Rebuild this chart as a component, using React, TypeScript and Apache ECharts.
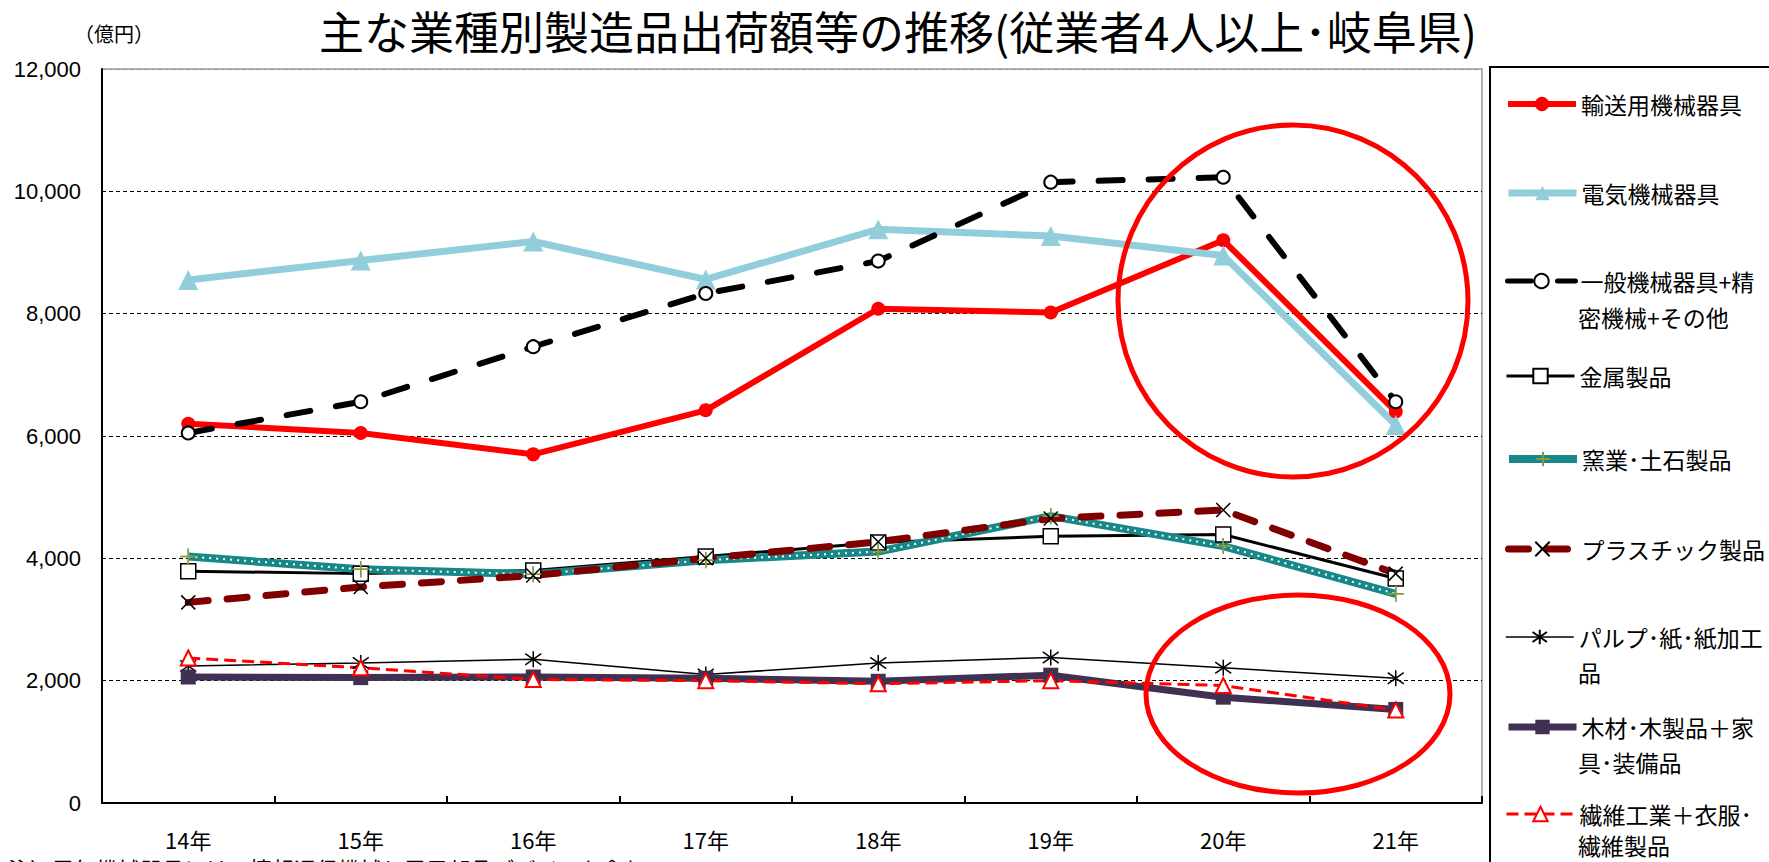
import React, { useEffect, useRef } from 'react';
import * as echarts from 'echarts';

const years = ['14年', '15年', '16年', '17年', '18年', '19年', '20年', '21年'];
const yTicks = [0, 2000, 4000, 6000, 8000, 10000, 12000];

const transport = [6200, 6050, 5700, 6420, 8080, 8020, 9200, 6400];
const electric = [8550, 8870, 9180, 8560, 9380, 9270, 8950, 6180];
const general = [6050, 6560, 7460, 8330, 8860, 10150, 10230, 6560];
const metal = [3790, 3750, 3800, 4030, 4260, 4360, 4390, 3670];
const ceramic = [4030, 3820, 3740, 3970, 4110, 4690, 4200, 3420];
const plastic = [3280, 3530, 3720, 4000, 4270, 4650, 4790, 3750];
const pulp = [2240, 2290, 2350, 2100, 2290, 2380, 2210, 2040];
const wood = [2060, 2050, 2060, 2040, 1990, 2090, 1730, 1530];
const textile = [2370, 2210, 2020, 2000, 1950, 2000, 1920, 1520];

const names = [
  '輸送用機械器具',
  '電気機械器具',
  '一般機械器具+精密機械+その他',
  '金属製品',
  '窯業･土石製品',
  'プラスチック製品',
  'パルプ･紙･紙加工品',
  '木材･木製品＋家具･装備品',
  '繊維工業＋衣服･繊維製品',
];

const titleText = '主な業種別製造品出荷額等の推移(従業者4人以上･岐阜県)';
const unitText = '（億円）';
const noteText = '注）電気機械器具には、情報通信機械と電子部品デバイスを含む';

const legendRows = [
  { name: names[0], first: '輸送用機械器具', y: 101, w: 6 },
  { name: names[1], first: '電気機械器具', y: 190, w: 7 },
  { name: names[2], first: '一般機械器具+精', y: 278, w: 5 },
  { name: names[3], first: '金属製品', y: 373, w: 3 },
  { name: names[4], first: '窯業･土石製品', y: 456, w: 8 },
  { name: names[5], first: 'プラスチック製品', y: 546, w: 7 },
  { name: names[6], first: 'パルプ･紙･紙加工', y: 634, w: 1.5 },
  { name: names[7], first: '木材･木製品＋家', y: 724, w: 7 },
  { name: names[8], first: '繊維工業＋衣服･', y: 811, w: 3 },
];
const legendSecond = [
  { text: '密機械+その他', y: 317 },
  { text: '品', y: 672 },
  { text: '具･装備品', y: 762 },
  { text: '繊維製品', y: 845 },
];

const PLUS = 'path://M10,0L10,20M0,10L20,10';
const CROSS = 'path://M0,0L20,20M20,0L0,20';
const STAR = 'path://M10,0L10,20M2,3L18,17M18,3L2,17';

const JP = 'Noto Sans CJK JP';

function line(name: string, data: number[], symbol: string, symbolSize: number, lineStyle: any, itemStyle: any, extra: any = {}) {
  return {
    type: 'line',
    name,
    data,
    symbol,
    symbolSize,
    showSymbol: true,
    lineStyle,
    itemStyle,
    emphasis: { disabled: true },
    silent: true,
    ...extra,
  };
}

function buildOption() {
  const series = [
    line(names[0], transport, 'circle', 14, { color: '#FF0000', width: 6 }, { color: '#FF0000' }),
    line(names[1], electric, 'triangle', 20, { color: '#92CDDC', width: 7 }, { color: '#92CDDC' }),
    line(names[2], general, 'circle', 13, { color: '#000', width: 6, type: [24, 26], cap: 'round' }, { color: '#fff', borderColor: '#000', borderWidth: 2 }),
    line(names[3], metal, 'rect', 15, { color: '#000', width: 3 }, { color: '#fff', borderColor: '#000', borderWidth: 1.5 }),
    line(names[4], ceramic, PLUS, 16, { color: '#178787', width: 8 }, { color: '#8A9B3C', borderColor: '#8A9B3C', borderWidth: 1.5 }),
    line(names[4] + ' ', ceramic, PLUS, 16, { color: '#ffffff', width: 2, type: [2, 5] }, { color: '#8A9B3C', borderColor: '#8A9B3C', borderWidth: 1.5 }),
    line(names[5], plastic, CROSS, 14, { color: '#800000', width: 7, type: [20, 19], cap: 'round' }, { color: '#000', borderColor: '#000', borderWidth: 1.5 }),
    line(names[6], pulp, STAR, 16, { color: '#000', width: 1.5 }, { color: '#000', borderColor: '#000', borderWidth: 1.5 }),
    line(names[7], wood, 'rect', 15, { color: '#403152', width: 7 }, { color: '#403152' }),
    line(names[8], textile, 'triangle', 15, { color: '#FF0000', width: 3, type: [12, 6] }, { color: '#fff', borderColor: '#FF0000', borderWidth: 2 }),
  ];

  const legend = legendRows.map((r) => ({
    data: [r.name],
    left: 1505,
    top: r.y - 9,
    orient: 'horizontal',
    padding: 0,
    itemWidth: 68,
    itemHeight: 18,
    itemGap: 0,
    selectedMode: false,
    formatter: r.first,
    textStyle: { fontSize: 23, color: '#000', fontFamily: JP, lineHeight: 24 },
    lineStyle: { width: r.w },
  }));

  const graphic: any[] = [
    {
      type: 'text',
      x: 114,
      y: 33,
      style: { text: unitText, fontSize: 20, fontFamily: JP, fill: '#000', textAlign: 'center', textVerticalAlign: 'middle' },
    },
    {
      type: 'text',
      x: 8,
      y: 857,
      style: { text: noteText, fontSize: 22, fontFamily: JP, fill: '#000', textAlign: 'left', textVerticalAlign: 'top' },
    },
    {
      type: 'rect',
      shape: { x: 1490, y: 67, width: 320, height: 830 },
      style: { fill: 'none', stroke: '#000', lineWidth: 2 },
    },
    {
      type: 'ellipse',
      z: 100,
      shape: { cx: 1293, cy: 301, rx: 175, ry: 176 },
      style: { fill: 'none', stroke: '#FF0000', lineWidth: 5 },
    },
    {
      type: 'ellipse',
      z: 100,
      shape: { cx: 1298, cy: 694, rx: 152, ry: 99 },
      style: { fill: 'none', stroke: '#FF0000', lineWidth: 5 },
    },
    ...legendSecond.map((s) => ({
      type: 'text',
      x: 1578,
      y: s.y,
      style: { text: s.text, fontSize: 23, lineHeight: 24, fontFamily: JP, fill: '#000', textAlign: 'left', textVerticalAlign: 'middle' },
    })),
  ];

  return {
    animation: false,
    backgroundColor: '#ffffff',
    title: {
      text: titleText,
      left: 319,
      top: 8,
      padding: 0,
      textStyle: { fontSize: 45, lineHeight: 45, fontWeight: 'normal', fontFamily: JP, color: '#000' },
    },
    grid: {
      left: 102,
      right: 287,
      top: 69,
      bottom: 59,
      show: true,
      borderColor: '#999',
      borderWidth: 1.5,
      backgroundColor: 'transparent',
    },
    xAxis: {
      type: 'category',
      data: years,
      boundaryGap: true,
      axisLine: { lineStyle: { color: '#000', width: 2 } },
      axisTick: { show: true, inside: true, length: 7, interval: 0, lineStyle: { color: '#000', width: 2 } },
      axisLabel: { fontSize: 22, lineHeight: 22, margin: 25, color: '#000', fontFamily: JP, interval: 0 },
      splitLine: { show: false },
    },
    yAxis: {
      type: 'value',
      min: yTicks[0],
      max: yTicks[yTicks.length - 1],
      interval: 2000,
      axisLine: { show: true, lineStyle: { color: '#000', width: 2 } },
      axisTick: { show: false },
      axisLabel: {
        fontSize: 22,
        margin: 21,
        color: '#000',
        fontFamily: 'Liberation Sans',
        formatter: (v: number) => v.toLocaleString('en-US'),
      },
      splitLine: {
        show: true,
        lineStyle: {
          color: yTicks.map((t, i) => (i === yTicks.length - 1 ? '#999' : '#000')),
          type: [4, 3],
          width: 1,
        },
      },
    },
    legend,
    graphic,
    series,
  };
}

export default function App() {
  const ref = useRef<HTMLDivElement>(null);
  useEffect(() => {
    document.body.style.margin = '0';
    document.body.style.overflow = 'hidden';
    const chart = echarts.init(ref.current as HTMLDivElement, null, { renderer: 'svg' });
    chart.setOption(buildOption() as any);
    return () => {
      chart.dispose();
    };
  }, []);
  return <div ref={ref} style={{ width: 1769, height: 862 }} />;
}
